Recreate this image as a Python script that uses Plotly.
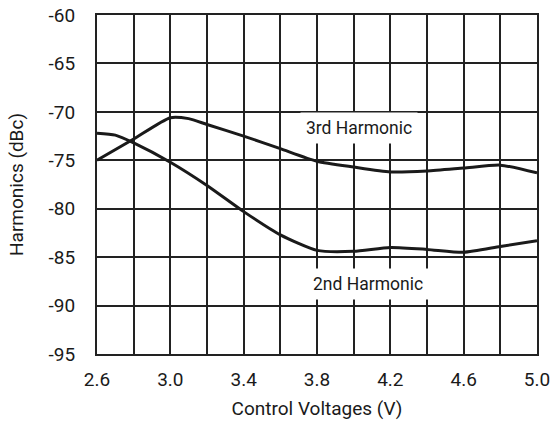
import plotly.graph_objects as go

x3 = [2.6, 2.8, 3.0, 3.1, 3.2, 3.4, 3.6, 3.8, 4.0, 4.2, 4.4, 4.6, 4.8, 5.0]
y3 = [-75.0, -72.8, -70.6, -70.7, -71.3, -72.5, -73.8, -75.1, -75.7, -76.2, -76.1, -75.8, -75.5, -76.3]
x2 = [2.6, 2.7, 2.8, 3.0, 3.2, 3.4, 3.6, 3.8, 4.0, 4.2, 4.4, 4.6, 4.8, 5.0]
y2 = [-72.2, -72.4, -73.2, -75.2, -77.6, -80.3, -82.7, -84.3, -84.4, -84.0, -84.2, -84.5, -83.9, -83.3]
xtickvals = [2.6, 2.8, 3.0, 3.2, 3.4, 3.6, 3.8, 4.0, 4.2, 4.4, 4.6, 4.8, 5.0]
xticktext = ["2.6", "", "3.0", "", "3.4", "", "3.8", "", "4.2", "", "4.6", "", "5.0"]
ytickvals = [-95, -90, -85, -80, -75, -70, -65, -60]
yticktext = ["-95", "-90", "-85", "-80", "-75", "-70", "-65", "-60"]

FONT = "Roboto, sans-serif"

fig = go.Figure()
fig.add_trace(go.Scatter(x=x3, y=y3, mode="lines", line=dict(color="#1a1a1a", width=3, shape="spline", smoothing=0.6), name="3rd Harmonic"))
fig.add_trace(go.Scatter(x=x2, y=y2, mode="lines", line=dict(color="#1a1a1a", width=3, shape="spline", smoothing=0.6), name="2nd Harmonic"))

fig.add_annotation(x=4.03, y=-71.7, text="3rd Harmonic", showarrow=False, bgcolor="white",
                   font=dict(family=FONT, size=17.5, color="#1a1a1a"), borderpad=5)
fig.add_annotation(x=4.08, y=-87.8, text="2nd Harmonic", showarrow=False, bgcolor="white",
                   font=dict(family=FONT, size=17.5, color="#1a1a1a"), borderpad=5)

fig.update_layout(
    width=553, height=431,
    margin=dict(l=97, r=16, t=15, b=77, autoexpand=False),
    paper_bgcolor="white", plot_bgcolor="white",
    showlegend=False,
    font=dict(family=FONT, size=19, color="#1a1a1a"),
    xaxis=dict(range=[2.6, 5.0], tickvals=xtickvals, ticktext=xticktext,
               showgrid=True, gridcolor="#222", gridwidth=1.5,
               showline=True, linecolor="#222", linewidth=2, mirror=True,
               zeroline=False, ticks="", ticklabelstandoff=7, automargin=False,
               title=dict(text="Control Voltages (V)", font=dict(size=19), standoff=12)),
    yaxis=dict(range=[-95, -60], tickvals=ytickvals, ticktext=yticktext,
               showgrid=True, gridcolor="#222", gridwidth=1.5,
               showline=True, linecolor="#222", linewidth=2, mirror=True,
               zeroline=False, ticks="", ticklabelstandoff=16, automargin=False,
               title=dict(text="Harmonics (dBc)", font=dict(size=19), standoff=20)),
)

fig.write_html("out.html", config={"displayModeBar": False},
               post_script="document.body.style.margin='0px';")
